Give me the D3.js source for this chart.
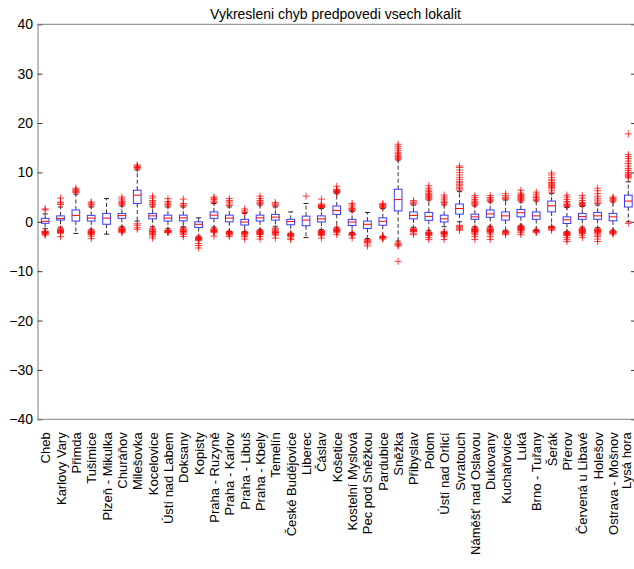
<!DOCTYPE html>
<html><head><meta charset="utf-8">
<script src="https://cdn.jsdelivr.net/npm/d3@7/dist/d3.min.js"></script>
<style>body{margin:0;background:#fff;} text{font-family:"Liberation Sans",Arial,sans-serif;}</style>
</head><body>
<svg id="c" width="634" height="569"></svg>
<script>
const title = "Vykresleni chyb predpovedi vsech lokalit";
const categories = ["Cheb","Karlovy Vary","Přimda","Tušimice","Plzeň - Mikulka","Churáňov","Milešovka","Kocelovice","Ústí nad Labem","Doksany","Kopisty","Praha - Ruzyně","Praha - Karlov","Praha - Libuš","Praha - Kbely","Temelín","České Budějovice","Liberec","Čáslav","Košetice","Kostelní Myslová","Pec pod Sněžkou","Pardubice","Sněžka","Přibyslav","Polom","Ústí nad Orlicí","Svratouch","Náměšť nad Oslavou","Dukovany","Kuchařovice","Luká","Brno - Tuřany","Šerák","Přerov","Červená u Libavé","Holešov","Ostrava - Mošnov","Lysá hora"];
const q1 =      [-0.3,0.35,0.15,0.15,-0.5,0.7,3.7,0.6,0.15,0.2,-1.15,0.7,0,-0.65,0.15,0.35,-0.6,-0.8,-0.05,1.5,-0.75,-1.35,-0.7,2.2,0.6,0.3,-0.05,1.55,0.5,0.9,0.35,1.0,0.5,2.0,-0.35,0.5,0.5,0.2,3.0];
const medians = [0.1,0.65,1.3,0.75,0.75,1.25,5.4,1.2,0.75,0.8,-0.5,1.35,0.75,-0.05,0.8,0.95,0.05,0.35,0.6,2.3,-0.05,-0.5,0.1,4.5,1.3,1.1,0.6,2.7,1.0,1.6,1.2,1.85,1.2,3.25,0.4,1.05,1.2,1.0,4.2];
const q3 =      [0.7,1.2,2.4,1.3,1.7,1.7,6.4,1.7,1.35,1.35,0,2.0,1.35,0.5,1.35,1.5,0.5,1.15,1.2,3.2,0.5,0.15,0.8,6.6,2.0,1.9,1.35,3.6,1.55,2.4,2.0,2.5,2.0,4.2,1.0,1.7,1.9,1.7,5.4];
const whiskerLow =  [-1.4,-1.1,-2.35,-1.5,-2.5,-1.0,0.15,-1.0,-1.4,-1.0,-2.9,-1.1,-1.9,-2.0,-1.6,-1.0,-2.3,-3.2,-1.6,-1.1,-2.2,-3.4,-2.9,-3.9,-1.1,-1.8,-1.0,0,-1.0,-0.9,-1.7,-0.7,-1.6,-0.9,-2.0,-1.1,-1.2,-1.7,0];
const whiskerHigh = [1.6,3.0,5.6,3.0,4.7,3.2,10.5,3.0,3.0,3.0,0.8,3.7,3.0,1.7,3.4,3.0,2.0,3.7,2.7,5.7,2.1,1.9,2.7,12.5,3.4,4.4,3.4,6.1,3.2,4.0,4.4,4.0,4.2,5.7,2.9,3.1,3.4,4.0,8.1];
const outliers = [
 [2.4,2.6,-1.9,-2.0,-2.1,-2.2,-2.3,-2.4,-2.5,-2.7],
 [3.5,3.8,4.0,4.8,-1.4,-1.6,-1.7,-1.8,-1.9,-2.0,-2.1,-2.2,-2.3,-3.0],
 [5.9,6.1,6.3,6.5,6.8],
 [3.2,3.5,3.8,4.0,-1.7,-1.9,-2.0,-2.1,-2.2,-2.3,-2.4,-2.6,-2.9,-3.4],
 [],
 [3.4,3.6,3.8,4.0,4.2,4.6,5.0,-1.2,-1.4,-1.5,-1.6,-1.7,-1.8,-1.9,-2.0,-2.2],
 [10.7,10.9,11.0,11.1,11.3,11.5,-0.4,-0.7,-1.2,-1.5],
 [3.2,3.5,3.8,4.0,4.3,4.8,5.2,-1.3,-1.5,-1.7,-1.9,-2.0,-2.2,-2.4,-2.6,-2.9,-3.3],
 [3.2,3.5,3.8,4.1,4.7,-1.7,-1.8,-1.9,-2.0,-2.1,-2.2],
 [3.2,3.4,3.7,4.6,-1.2,-1.4,-1.6,-1.8,-1.9,-2.0,-2.1,-2.3,-2.6,-3.0],
 [-3.1,-3.2,-3.3,-3.4,-3.5,-3.6,-3.8,-4.4,-4.8,-5.3],
 [3.9,4.2,4.5,4.8,5.0,-1.4,-1.6,-1.7,-1.8,-1.9,-2.0,-2.2,-2.9],
 [3.3,3.6,4.0,4.3,4.7,-2.0,-2.1,-2.2,-2.3,-2.4,-2.5,-2.7,-3.0],
 [1.9,2.2,2.6,-2.1,-2.2,-2.3,-2.4,-2.5,-2.7,-3.0,-3.5],
 [3.6,3.8,4.0,4.3,4.7,5.2,-1.8,-1.9,-2.0,-2.1,-2.2,-2.3,-2.4,-2.5,-2.6,-3.0,-3.5],
 [3.2,3.4,3.6,3.9,-1.3,-1.5,-1.8,-2.0,-2.1,-2.2,-2.3,-2.5,-2.7,-3.3],
 [-2.4,-2.5,-2.6,-2.7,-2.8,-3.0,-3.3,-3.6],
 [5.2],
 [2.9,3.0,3.1,3.2,3.3,3.4,3.6,4.6,-1.8,-1.9,-2.0,-2.1,-2.2,-2.3,-2.4,-2.5,-2.6,-2.8,-3.3],
 [5.9,6.0,6.1,6.2,6.3,6.4,6.6,7.2,-1.3,-1.5,-1.6,-1.7,-1.8,-1.9,-2.0,-2.2,-2.6],
 [2.3,2.5,2.7,3.0,3.4,3.7,-2.3,-2.4,-2.5,-2.6,-2.8,-3.3],
 [-3.6,-3.8,-4.0,-4.2,-4.5,-4.9],
 [2.9,3.1,3.3,3.5,3.7,-3.0,-3.1,-3.2,-3.3,-3.5],
 [12.7,12.9,13.1,13.3,13.5,13.8,14.1,14.5,14.9,15.3,15.7,-4.3,-4.5,-4.7,-4.9,-8.0],
 [3.6,3.8,4.0,4.3,-1.3,-1.5,-1.6,-1.7,-1.8,-1.9,-2.0,-2.3,-2.6],
 [4.6,4.8,5.0,5.2,5.4,5.6,5.8,6.1,6.4,6.8,7.3,-2.1,-2.2,-2.3,-2.4,-2.5,-2.6,-2.8,-3.2,-3.6],
 [3.6,3.9,4.2,4.6,5.0,5.4,-2.0,-2.1,-2.2,-2.3,-2.4,-2.5,-2.7,-3.0,-3.6],
 [6.4,6.7,7.0,7.3,7.6,7.9,8.2,8.6,9.0,9.5,10.0,10.5,11.0,11.3,-0.7,-0.9,-1.1,-1.3,-1.5,-1.7],
 [3.4,3.6,3.8,4.0,4.2,4.5,4.9,5.3,-1.2,-1.4,-1.5,-1.6,-1.7,-1.8,-1.9,-2.0,-2.1,-2.3,-2.6,-3.0,-3.6],
 [4.2,4.4,4.6,4.9,5.3,-1.1,-1.3,-1.5,-1.6,-1.7,-1.8,-1.9,-2.0,-2.2,-2.5,-3.0,-3.6],
 [4.6,4.8,5.0,5.3,5.7,-1.9,-2.0,-2.1,-2.2,-2.4,-2.6],
 [4.3,4.5,4.7,4.9,5.1,5.3,5.5,5.8,6.4,-0.9,-1.0,-1.1,-1.2,-1.3,-1.4,-1.5,-1.6,-1.7,-1.9,-2.2,-2.6],
 [4.4,4.6,4.9,5.2,5.6,6.0,-1.7,-1.8,-1.9,-2.0,-2.2],
 [6.0,6.4,6.8,7.0,7.2,7.4,7.6,7.8,8.0,8.3,8.6,9.0,9.5,9.9,-1.0,-1.1,-1.2,-1.3,-1.5,-1.7],
 [3.1,3.3,3.5,3.8,4.1,4.5,5.0,5.4,-2.1,-2.2,-2.3,-2.4,-2.5,-2.6,-2.7,-2.8,-3.2,-3.6,-4.0],
 [3.3,3.5,3.7,3.9,4.3,4.8,5.3,-1.3,-1.5,-1.6,-1.7,-1.8,-1.9,-2.0,-2.1,-2.2,-2.4,-2.7,-3.2],
 [3.7,4.0,4.4,4.8,5.2,5.7,6.3,6.8,-1.4,-1.6,-1.7,-1.8,-1.9,-2.0,-2.2,-2.4,-2.7,-3.0,-3.5,-4.0],
 [4.2,4.4,4.6,4.8,5.0,-1.9,-2.0,-2.1,-2.2,-2.3,-2.5],
 [8.9,9.1,9.3,9.5,9.7,10.0,10.4,10.8,11.3,11.8,12.3,12.8,13.2,13.6,17.8,-0.3]
];
const yTicks = [-40,-30,-20,-10,0,10,20,30,40];

const svg = d3.select("#c");
const L = 37.5, R = 636, T = 24.3, B = 419.3;
const x = d3.scaleLinear().domain([0.5, categories.length + 0.5]).range([L, R]);
const y = d3.scaleLinear().domain([-40, 40]).range([B, T]);
const axisColor = "#7f7f7f";

// axes
const gl = svg.append("g").attr("transform", `translate(${L},0)`)
  .call(d3.axisLeft(y).tickValues(yTicks).tickSize(-5).tickSizeOuter(0).tickPadding(4.5));
gl.select(".domain").attr("stroke", axisColor);
gl.selectAll(".tick line").attr("stroke", "#333");
gl.selectAll(".tick text").attr("font-size", 14).attr("fill", "#000").attr("font-family", '"Liberation Sans",Arial,sans-serif');
const gr = svg.append("g").attr("transform", `translate(${R},0)`)
  .call(d3.axisRight(y).tickValues(yTicks).tickSize(-5).tickSizeOuter(0).tickFormat(""));
gr.select(".domain").attr("stroke", axisColor);
gr.selectAll(".tick line").attr("stroke", "#333");
svg.append("line").attr("x1", L).attr("x2", R).attr("y1", T).attr("y2", T).attr("stroke", axisColor);
svg.append("line").attr("x1", L).attr("x2", R).attr("y1", B).attr("y2", B).attr("stroke", axisColor);

// title
svg.append("text").attr("x", 335.5).attr("y", 18.5).attr("text-anchor", "middle")
  .attr("font-size", 14).text(title);

const bw = (x(1) - x(0)) * 0.5;
const cw = (x(1) - x(0)) * 0.33;
const g = svg.append("g");
categories.forEach((c, i) => {
  const cx = x(i + 1);
  const gg = g.append("g");
  // whiskers
  gg.append("line").attr("x1", cx).attr("x2", cx).attr("y1", y(q3[i])).attr("y2", y(whiskerHigh[i]))
    .attr("stroke", "#333").attr("stroke-dasharray", "4,2.5");
  gg.append("line").attr("x1", cx).attr("x2", cx).attr("y1", y(q1[i])).attr("y2", y(whiskerLow[i]))
    .attr("stroke", "#333").attr("stroke-dasharray", "4,2.5");
  gg.append("line").attr("x1", cx - cw/2).attr("x2", cx + cw/2).attr("y1", y(whiskerHigh[i])).attr("y2", y(whiskerHigh[i])).attr("stroke", "#222");
  gg.append("line").attr("x1", cx - cw/2).attr("x2", cx + cw/2).attr("y1", y(whiskerLow[i])).attr("y2", y(whiskerLow[i])).attr("stroke", "#222");
  // box
  gg.append("rect").attr("x", cx - bw/2).attr("y", y(q3[i])).attr("width", bw).attr("height", y(q1[i]) - y(q3[i]))
    .attr("fill", "none").attr("stroke", "#3838ff");
  gg.append("line").attr("x1", cx - bw/2).attr("x2", cx + bw/2).attr("y1", y(medians[i])).attr("y2", y(medians[i])).attr("stroke", "#ff0000");
  // outliers
  outliers[i].forEach(v => {
    const py = y(v);
    gg.append("path").attr("d", `M${cx-3.5},${py}H${cx+3.5}M${cx},${py-3.5}V${py+3.5}`)
      .attr("stroke", "#ff0000").attr("stroke-opacity", 0.75).attr("fill", "none");
  });
  // label
  svg.append("text").attr("transform", `translate(${Math.min(cx + 5, 630.5)},${B + 13}) rotate(-90)`)
    .attr("text-anchor", "end").attr("font-size", 13).text(c);
});
</script>
</body></html>
